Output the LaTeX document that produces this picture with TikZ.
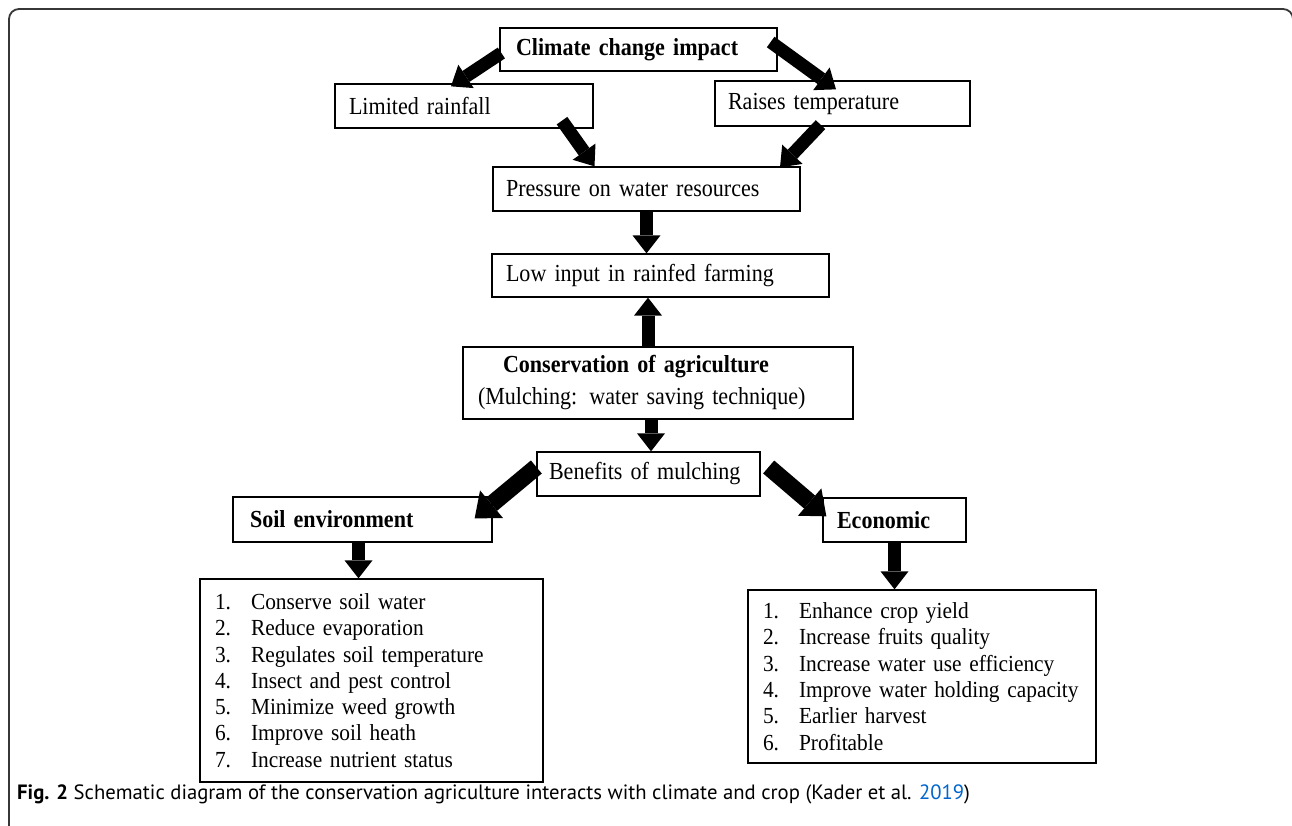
\documentclass[tikz,border=0pt]{standalone}
\usepackage{fontspec}
\setmainfont{Liberation Serif}
\newfontfamily\boxfont[FakeStretch=0.9, WordSpace=1.6]{Liberation Serif}
\newfontfamily\listfont[FakeStretch=0.93]{Liberation Serif}
\newfontfamily\capfont{PT Sans}
\usetikzlibrary{arrows.meta,calc}
\definecolor{linkblue}{RGB}{0,102,204}
\definecolor{framegray}{RGB}{55,55,55}
\tikzset{
  box/.style={draw=black, line width=1.3pt, inner ysep=0pt, align=left,
    font=\boxfont\fontsize{24.5}{32}\selectfont},
  boldbox/.style={box, font=\boxfont\fontsize{24.5}{32}\selectfont\bfseries},
  listbox/.style={draw=black, line width=1.3pt, inner xsep=15pt, inner ysep=0pt,
    align=left, font=\listfont\fontsize{23}{26.3}\selectfont},
  barrow/.style={line width=13pt, -{Triangle[length=18pt,width=28pt,line width=0pt]}},
  bigarrow/.style={line width=17pt, -{Triangle[length=22pt,width=36pt,line width=0pt]}},
  framestyle/.style={draw=framegray, line width=1.8pt, rounded corners=10pt},
}
\newcommand{\itm}[2]{\mbox{\makebox[36pt][l]{#1}#2}}
\begin{document}
\begin{tikzpicture}[x=1pt,y=-1pt]
\useasboundingbox (0,0) rectangle (1292,826);
\draw[framestyle] (9,830) -- (9,9) -- (1293,9) -- (1293,830);

\node[boldbox, inner xsep=16pt, text width=245pt, minimum height=43pt] (clim) at (638.5,49.5) {Climate change impact};
\node[box, inner xsep=14pt, text width=230pt, minimum height=44pt] (lim) at (464,106) {Limited rainfall};
\node[box, inner xsep=13pt, text width=229pt, minimum height=45pt] (raises) at (842.5,103.5) {Raises temperature};
\node[box, inner xsep=13pt, text width=281pt, minimum height=44pt] (press) at (646.5,189) {Pressure on water resources};
\node[box, inner xsep=14pt, text width=309pt, minimum height=43pt] (low) at (660.5,275.5) {Low input in rainfed farming};
\node[box, inner xsep=15pt, text width=360pt, minimum height=72pt] (cons) at (658,383)
  {\hspace*{25pt}\textbf{Conservation of agriculture}\\(Mulching: water saving technique)};
\node[box, inner xsep=12pt, text width=199pt, minimum height=44pt] (ben) at (648.5,474) {Benefits of mulching};
\node[boldbox, inner xsep=17pt, text width=225pt, minimum height=45pt] (soil) at (362.5,519.5) {Soil environment};
\node[boldbox, inner xsep=14pt, text width=115pt, minimum height=44pt] (econ) at (894.5,520) {Economic};
\node[listbox, text width=313pt, minimum height=203pt] (soillist) at (371.5,680.5)
  {\itm{1.}{Conserve soil water}\\
   \itm{2.}{Reduce evaporation}\\
   \itm{3.}{Regulates soil temperature}\\
   \itm{4.}{Insect and pest control}\\
   \itm{5.}{Minimize weed growth}\\
   \itm{6.}{Improve soil heath}\\
   \itm{7.}{Increase nutrient status}};
\node[listbox, text width=318pt, minimum height=173pt] (econlist) at (922,676.5)
  {\itm{1.}{Enhance crop yield}\\
   \itm{2.}{Increase fruits quality}\\
   \itm{3.}{Increase water use efficiency}\\
   \itm{4.}{Improve water holding capacity}\\
   \itm{5.}{Earlier harvest}\\
   \itm{6.}{Profitable}};

\draw[barrow] ($(clim.west)+(2,3.5)$) -- ($(lim.north)+(-13,3)$);
\draw[barrow] ($(clim.east)+(-7,-7.5)$) -- ($(raises.north)+(-6.5,9)$);
\draw[barrow] ($(lim.south)+(98,-8)$) -- ($(press.north)+(-52,0)$);
\draw[barrow] ($(raises.south)+(-22,-2)$) -- ($(press.north)+(133.5,1)$);
\draw[barrow] (press.south) -- (press.south |- low.north);
\draw[barrow] ($(cons.north)+(-10,0)$) -- ($(cons.north |- low.south)+(-10,0)$);
\draw[barrow] ($(cons.south)+(-7,0)$) -- ($(cons.south |- ben.north)+(-7,0)$);
\draw[bigarrow] ($(ben.west)+(0,-7)$) -- ($(soil.north east)+(-18,22)$);
\draw[bigarrow] ($(ben.east)+(8,-7)$) -- ($(econ.north west)+(4,19)$);
\draw[barrow] ($(soil.south)+(-4,0)$) -- ($(soil.south |- soillist.north)+(-4,0)$);
\draw[barrow] (econ.south) -- (econ.south |- econlist.north);

\node[anchor=base west, inner sep=0pt, font=\capfont\fontsize{20.7}{24}\selectfont] (cap) at (17,799)
  {\textbf{Fig. 2} Schematic diagram of the conservation agriculture interacts with climate and crop (Kader et al. \textcolor{linkblue}{2019})};
\end{tikzpicture}
\end{document}
